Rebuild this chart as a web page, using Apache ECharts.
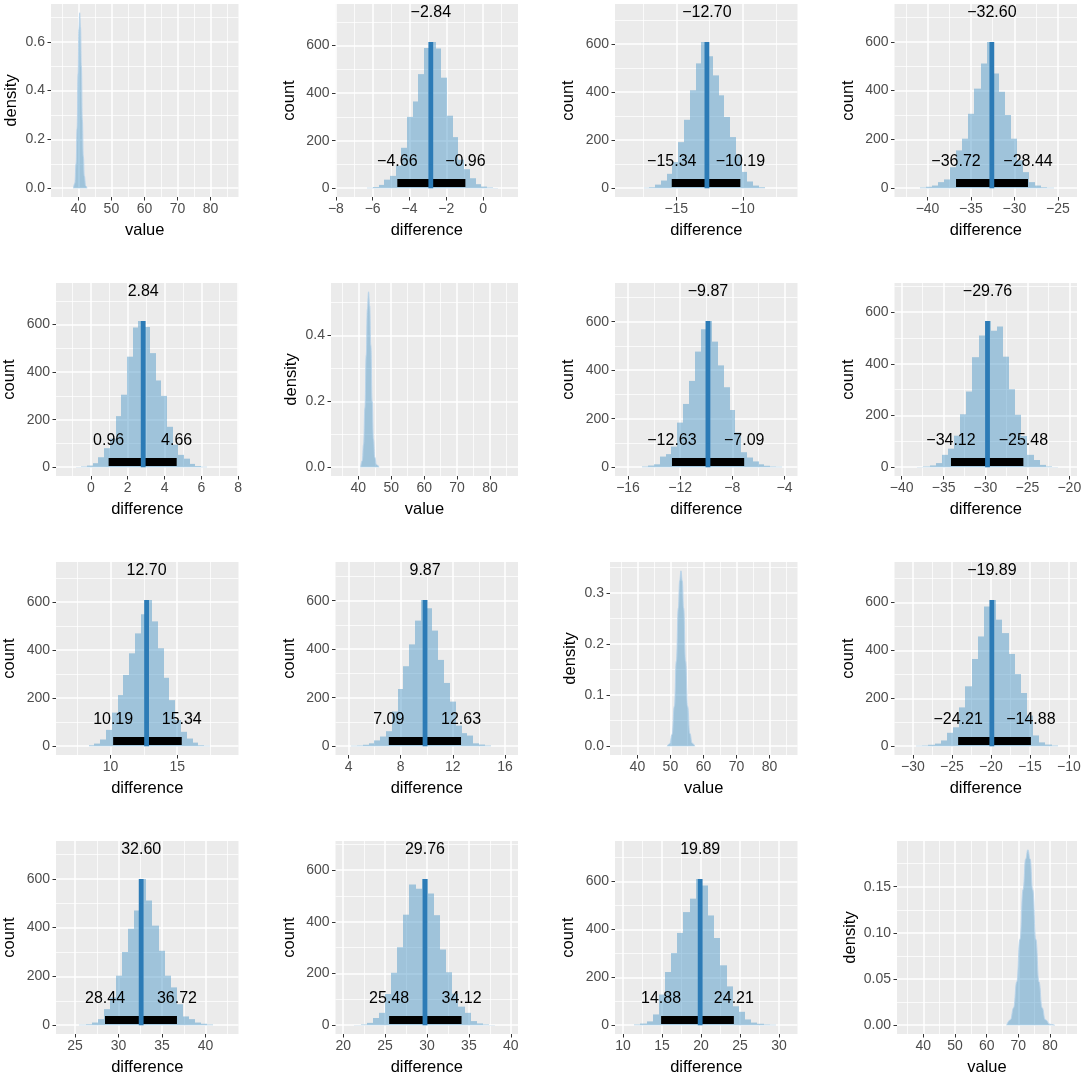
<!DOCTYPE html>
<html lang="en">
<head>
<meta charset="UTF-8">
<title>Pairwise bootstrap differences</title>
<style>
    html, body { margin: 0; padding: 0; background: #fff; }
    #chart { width: 1084px; height: 1076px; }
</style>
</head>
<body>
<div id="chart"></div>
<script src="https://cdn.jsdelivr.net/npm/echarts@6.0.0/dist/echarts.min.js"></script>
<script>
// ---------- values ----------
var valueTicks = [40, 50, 60, 70, 80];
var countTicks = [0, 200, 400, 600];

// diagonal densities
var dens1X = [38.5, 38.9, 39.3, 39.6, 39.9, 40.15, 40.4, 40.65, 40.9, 41.2, 41.5, 41.8, 42.2, 42.6];
var dens1Y = [0, 0.02, 0.10, 0.245, 0.47, 0.65, 0.719, 0.66, 0.50, 0.28, 0.13, 0.05, 0.01, 0];
var dens1Ticks = [0, 0.2, 0.4, 0.6];

var dens2X = [40.7, 41.2, 41.6, 42.0, 42.4, 42.75, 43.1, 43.45, 43.8, 44.2, 44.6, 45.0, 45.5, 46.3];
var dens2Y = [0, 0.02, 0.07, 0.18, 0.34, 0.48, 0.533, 0.49, 0.37, 0.2, 0.085, 0.03, 0.008, 0];
var dens2Ticks = [0, 0.2, 0.4];

var dens3X = [49.0, 49.8, 50.5, 51.2, 51.8, 52.4, 52.8, 53.2, 53.6, 54.0, 54.6, 55.2, 55.9, 56.6, 57.4];
var dens3Y = [0, 0.005, 0.023, 0.078, 0.166, 0.27, 0.323, 0.343, 0.323, 0.27, 0.166, 0.078, 0.025, 0.006, 0];
var dens3Ticks = [0, 0.1, 0.2, 0.3];

var dens4X = [66.3, 67.5, 68.5, 69.5, 70.5, 71.5, 72.3, 73.0, 73.7, 74.5, 75.5, 76.5, 77.5, 78.5, 80.0, 81.5];
var dens4Y = [0, 0.006, 0.019, 0.047, 0.093, 0.147, 0.18, 0.19, 0.18, 0.147, 0.093, 0.047, 0.019, 0.006, 0.001, 0];
var dens4Ticks = [0, 0.05, 0.1, 0.15];

// off-diagonal histograms (upper triangle; lower triangle is the mirror)
// stats = [mean, lower, upper]
var hist12Start = -6.3, hist12Width = 0.31;
var hist12Counts = [2, 5, 14, 36, 52, 95, 170, 300, 365, 480, 590, 615, 588, 465, 305, 215, 120, 80, 42, 17, 7, 3, 1];
var hist12Stats = [-2.84, -4.66, -0.96];
var hist12Ticks = [-8, -6, -4, -2, 0];

var hist13Start = -17.45, hist13Width = 0.433;
var hist13Counts = [2, 4, 15, 32, 60, 109, 192, 285, 408, 520, 609, 550, 470, 387, 297, 213, 140, 68, 28, 11, 4];
var hist13Stats = [-12.70, -15.34, -10.19];
var hist13Ticks = [-15, -10];

var hist14Start = -40.9, hist14Width = 0.70;
var hist14Counts = [3, 6, 11, 25, 36, 86, 155, 203, 305, 408, 511, 599, 470, 395, 300, 203, 114, 66, 25, 11, 4, 2];
var hist14Stats = [-32.60, -36.72, -28.44];
var hist14Ticks = [-40, -35, -30, -25];

var hist23Start = -14.9, hist23Width = 0.446;
var hist23Counts = [3, 7, 12, 44, 54, 85, 184, 261, 356, 477, 569, 603, 518, 420, 330, 236, 143, 62, 40, 24, 12, 6, 3, 2];
var hist23Stats = [-9.87, -12.63, -7.09];
var hist23Ticks = [-16, -12, -8, -4];

var hist24Start = -38.13, hist24Width = 0.73;
var hist24Counts = [1, 3, 7, 16, 48, 72, 122, 205, 293, 426, 510, 566, 528, 545, 428, 302, 203, 121, 48, 28, 9, 3, 1];
var hist24Stats = [-29.76, -34.12, -25.48];
var hist24Ticks = [-40, -35, -30, -25, -20];

var hist34Start = -29.6, hist34Width = 0.79;
var hist34Counts = [2, 3, 6, 11, 24, 56, 79, 162, 250, 364, 458, 583, 610, 528, 472, 385, 301, 222, 128, 45, 16, 7, 3];
var hist34Stats = [-19.89, -24.21, -14.88];
var hist34Ticks = [-30, -25, -20, -15, -10];

// ---------- layout ----------
var FONT = '"Liberation Sans", Arial, Helvetica, sans-serif';
var BAR_FILL = 'rgba(66,146,198,0.45)';
var MEAN_BLUE = '#2C7BB6';
var PANEL_H = 193;
var VALUE_RANGE = [31.7, 88.5];

function panelTop(r) { return 4 + 279 * r; }
function panelRight(c) { return 238.5 + 279.5 * c; }
function countLeft(c) { return 56 + 279.5 * c; }

var diagPanels = [
    {x: dens1X, y: dens1Y, ticks: dens1Ticks, dec: 1, left: 51, gap: 31},
    {x: dens2X, y: dens2Y, ticks: dens2Ticks, dec: 1, left: 331, gap: 31},
    {x: dens3X, y: dens3Y, ticks: dens3Ticks, dec: 1, left: 610, gap: 31},
    {x: dens4X, y: dens4Y, ticks: dens4Ticks, dec: 2, left: 897, gap: 38}
];

var pairs = [
    {i: 0, j: 1, start: hist12Start, width: hist12Width, counts: hist12Counts, stats: hist12Stats, ticks: hist12Ticks, xr: [-8.02, 1.9]},
    {i: 0, j: 2, start: hist13Start, width: hist13Width, counts: hist13Counts, stats: hist13Stats, ticks: hist13Ticks, xr: [-19.6, -5.9]},
    {i: 0, j: 3, start: hist14Start, width: hist14Width, counts: hist14Counts, stats: hist14Stats, ticks: hist14Ticks, xr: [-43.8, -22.8]},
    {i: 1, j: 2, start: hist23Start, width: hist23Width, counts: hist23Counts, stats: hist23Stats, ticks: hist23Ticks, xr: [-17.0, -3.0]},
    {i: 1, j: 3, start: hist24Start, width: hist24Width, counts: hist24Counts, stats: hist24Stats, ticks: hist24Ticks, xr: [-40.86, -19.08]},
    {i: 2, j: 3, start: hist34Start, width: hist34Width, counts: hist34Counts, stats: hist34Stats, ticks: hist34Ticks, xr: [-32.37, -8.97]}
];

function fmtNum(v, dec) {
    if (Math.abs(v) < 1e-9) v = 0;
    return v.toFixed(dec).replace('-', '\u2212');
}

function midTicks(ticks, range) {
    var step = ticks.length > 1 ? ticks[1] - ticks[0] : 1;
    var out = [ticks[0] - step / 2];
    ticks.forEach(function (t) { out.push(t + step / 2); });
    return out.filter(function (v) { return v > range[0] && v < range[1]; });
}

var option = {
    animation: false,
    backgroundColor: '#fff',
    grid: [], xAxis: [], yAxis: [], series: []
};

function majorAxis(dim, gi, range, ticks, dec, name, gap) {
    return {
        type: 'value', gridIndex: gi, min: range[0], max: range[1],
        position: dim === 'x' ? 'bottom' : 'left',
        name: name, nameLocation: 'middle', nameGap: gap,
        nameTextStyle: {color: '#000', fontSize: 16.5, fontFamily: FONT},
        axisLine: {show: false, onZero: false},
        axisTick: {show: true, length: 3.5, customValues: ticks, lineStyle: {color: '#333', width: 1}},
        axisLabel: {
            show: true, customValues: ticks, color: '#4D4D4D', fontSize: 14, fontFamily: FONT,
            margin: dim === 'x' ? 5 : 6,
            formatter: function (v) { return fmtNum(v, dec); }
        },
        splitLine: {show: true, lineStyle: {color: '#fff', width: 1.5}},
        minorSplitLine: {show: false}
    };
}

function minorAxis(dim, gi, range, ticks) {
    return {
        type: 'value', gridIndex: gi, min: range[0], max: range[1],
        position: dim === 'x' ? 'top' : 'right',
        axisLine: {show: false, onZero: false},
        axisTick: {show: false, customValues: ticks},
        axisLabel: {show: false, customValues: ticks},
        splitLine: {show: true, lineStyle: {color: '#fff', width: 0.75}}
    };
}

function addGrid(left, right, top, xr, yr, xTicks, yTicks, xDec, yDec, xName, yName, yGap) {
    var gi = option.grid.length;
    option.grid.push({
        left: left, top: top, width: right - left, height: PANEL_H,
        show: true, backgroundColor: '#EBEBEB', borderWidth: 0,
        containLabel: false, outerBoundsMode: 'none'
    });
    option.xAxis.push(majorAxis('x', gi, xr, xTicks, xDec, xName, 25));
    option.xAxis.push(minorAxis('x', gi, xr, midTicks(xTicks, xr)));
    option.yAxis.push(majorAxis('y', gi, yr, yTicks, yDec, yName, yGap));
    option.yAxis.push(minorAxis('y', gi, yr, midTicks(yTicks, yr)));
    return 2 * gi;
}

// diagonal density panels
diagPanels.forEach(function (d, k) {
    var peak = Math.max.apply(null, d.y);
    var yr = [-0.05 * peak, 1.05 * peak];
    var ai = addGrid(d.left, panelRight(k), panelTop(k), VALUE_RANGE, yr,
        valueTicks, d.ticks, 0, d.dec, 'value', 'density', d.gap);
    option.series.push({
        type: 'line', xAxisIndex: ai, yAxisIndex: ai,
        data: d.x.map(function (v, i) { return [v, d.y[i]]; }),
        smooth: 0.5, smoothMonotone: 'x', symbol: 'none', showSymbol: false,
        lineStyle: {color: 'rgba(185,212,234,0.9)', width: 1},
        areaStyle: {color: BAR_FILL, opacity: 1}
    });
});

// off-diagonal histogram panels
function addHistogram(r, c, p, sign) {
    var M = Math.max.apply(null, p.counts);
    var yr = [-0.06 * M, 1.26 * M];
    var xr = sign > 0 ? p.xr : [-p.xr[1], -p.xr[0]];
    var ticks = sign > 0 ? p.ticks : p.ticks.map(function (t) { return -t; }).reverse();
    var ai = addGrid(countLeft(c), panelRight(c), panelTop(r), xr, yr,
        ticks, countTicks, 0, 0, 'difference', 'count', 38);

    var bins = p.counts.map(function (cnt, i) {
        var a = p.start + i * p.width, b = a + p.width;
        return sign > 0 ? [a, b, cnt] : [-b, -a, cnt];
    });
    var mean = sign * p.stats[0];
    var lo = sign > 0 ? p.stats[1] : -p.stats[2];
    var hi = sign > 0 ? p.stats[2] : -p.stats[1];

    option.series.push({
        type: 'custom', xAxisIndex: ai, yAxisIndex: ai, data: bins,
        encode: {x: [0, 1], y: 2},
        renderItem: function (params, api) {
            var a = api.coord([api.value(0), api.value(2)]);
            var b = api.coord([api.value(1), 0]);
            var x0 = Math.round(a[0]), x1 = Math.round(b[0]);
            return {type: 'rect', shape: {x: x0, y: a[1], width: x1 - x0, height: b[1] - a[1]},
                style: {fill: BAR_FILL}};
        }
    });
    // interval bar
    option.series.push({
        type: 'custom', xAxisIndex: ai, yAxisIndex: ai, data: [[lo, hi, 0.036 * M]],
        encode: {x: [0, 1], y: 2},
        renderItem: function (params, api) {
            var a = api.coord([api.value(0), api.value(2)]);
            var b = api.coord([api.value(1), api.value(2)]);
            return {type: 'rect', shape: {x: a[0], y: a[1] - 4, width: b[0] - a[0], height: 8},
                style: {fill: '#000'}};
        }
    });
    // mean line
    option.series.push({
        type: 'custom', xAxisIndex: ai, yAxisIndex: ai, data: [[mean, M]],
        renderItem: function (params, api) {
            var top = api.coord([api.value(0), api.value(1)]);
            var bot = api.coord([api.value(0), 0]);
            return {type: 'rect', shape: {x: top[0] - 2.4, y: top[1], width: 4.8, height: bot[1] - top[1]},
                style: {fill: MEAN_BLUE}};
        }
    });
    // text labels
    var texts = [fmtNum(mean, 2), fmtNum(lo, 2), fmtNum(hi, 2)];
    option.series.push({
        type: 'custom', xAxisIndex: ai, yAxisIndex: ai,
        data: [[mean, 1.2 * M], [lo, 0.18 * M], [hi, 0.18 * M]],
        renderItem: function (params, api) {
            var pt = api.coord([api.value(0), api.value(1)]);
            return {type: 'text', x: pt[0], y: pt[1], style: {
                text: texts[params.dataIndex], fill: '#000', font: '16px ' + FONT,
                align: 'center', verticalAlign: 'middle',
                textAlign: 'center', textVerticalAlign: 'middle'}};
        }
    });
}

pairs.forEach(function (p) {
    addHistogram(p.i, p.j, p, 1);
    addHistogram(p.j, p.i, p, -1);
});

var chart = echarts.init(document.getElementById('chart'), null, {renderer: 'canvas'});
chart.setOption(option);
</script>
</body>
</html>
